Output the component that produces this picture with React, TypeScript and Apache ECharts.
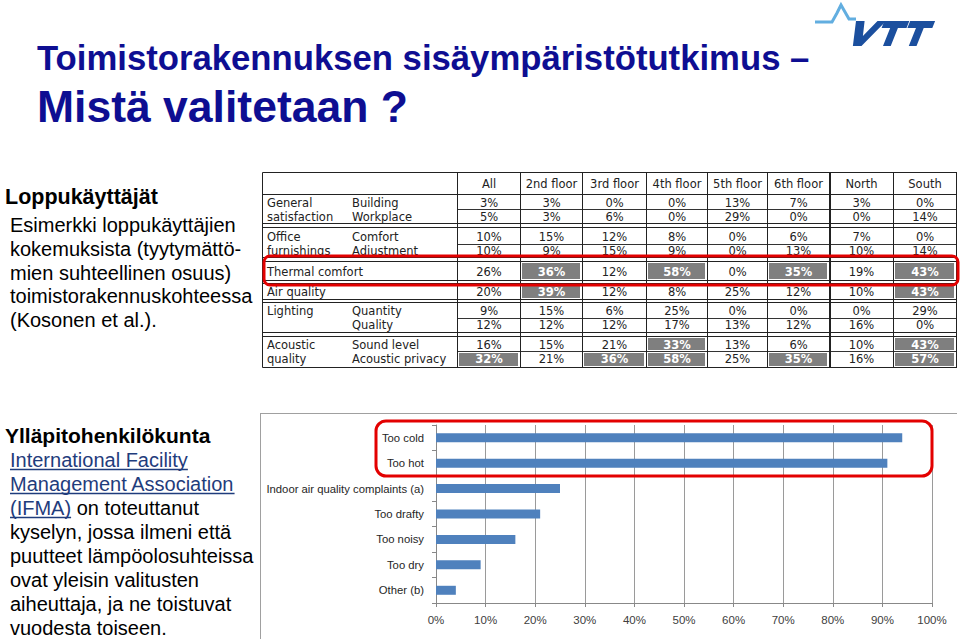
import React, { useEffect, useRef } from 'react';
import * as echarts from 'echarts';

// ---------- data ----------
const barCategories = ['Too cold', 'Too hot', 'Indoor air quality complaints (a)', 'Too drafty', 'Too noisy', 'Too dry', 'Other (b)'];
const barValues = [94, 91, 25, 21, 16, 9, 4];

const tableColumns = ['All', '2nd floor', '3rd floor', '4th floor', '5th floor', '6th floor', 'North', 'South'];
const groupLabels = ['General', 'satisfaction', 'Office', 'furnishings', 'Thermal comfort', 'Air quality', 'Lighting', '', 'Acoustic', 'quality'];
const subLabels = ['Building', 'Workplace', 'Comfort', 'Adjustment', '', '', 'Quantity', 'Quality', 'Sound level', 'Acoustic privacy'];
const tableValues = [
  [3, 3, 0, 0, 13, 7, 3, 0],
  [5, 3, 6, 0, 29, 0, 0, 14],
  [10, 15, 12, 8, 0, 6, 7, 0],
  [10, 9, 15, 9, 0, 13, 10, 14],
  [26, 36, 12, 58, 0, 35, 19, 43],
  [20, 39, 12, 8, 25, 12, 10, 43],
  [9, 15, 6, 25, 0, 0, 0, 29],
  [12, 12, 12, 17, 13, 12, 16, 0],
  [16, 15, 21, 33, 13, 6, 10, 43],
  [32, 21, 36, 58, 25, 35, 16, 57],
];
const highlightThreshold = 30;

const titleLine1 = 'Toimistorakennuksen sisäympäristötutkimus –';
const titleLine2 = 'Mistä valitetaan ?';
const topHeading = 'Loppukäyttäjät';
const topLines = ['Esimerkki loppukäyttäjien', 'kokemuksista (tyytymättö-', 'mien suhteellinen osuus)', 'toimistorakennuskohteessa', '(Kosonen et al.).'];
const bottomHeading = 'Ylläpitohenkilökunta';
const bottomLines: { t: string; link?: boolean }[][] = [
  [{ t: 'International Facility', link: true }],
  [{ t: 'Management Association', link: true }],
  [{ t: '(IFMA)', link: true }, { t: ' on toteuttanut' }],
  [{ t: 'kyselyn, jossa ilmeni että' }],
  [{ t: 'puutteet lämpöolosuhteissa' }],
  [{ t: 'ovat yleisin valitusten' }],
  [{ t: 'aiheuttaja, ja ne toistuvat' }],
  [{ t: 'vuodesta toiseen.' }],
];

// ---------- helpers ----------
const SANS = '"Liberation Sans", Arial, sans-serif';
const VERD = '"DejaVu Sans", Verdana, sans-serif';

function txt(x: number, y: number, text: string, o: any = {}) {
  const align = o.align || 'left';
  const va = o.va || 'middle';
  return {
    type: 'text',
    x,
    y,
    silent: true,
    z: o.z || 10,
    style: {
      text,
      fill: o.fill || '#000',
      fontSize: o.size || 12,
      fontFamily: o.family || SANS,
      fontWeight: o.weight || 'normal',
      align,
      verticalAlign: va,
      textAlign: align,
      textVerticalAlign: va,
    },
  };
}
function ln(x1: number, y1: number, x2: number, y2: number, color = '#222', w = 1, z = 5) {
  return { type: 'line', silent: true, z, shape: { x1, y1, x2, y2 }, style: { stroke: color, lineWidth: w } };
}

let measureCtx: CanvasRenderingContext2D | null = null;
function measure(text: string, font: string) {
  if (!measureCtx) measureCtx = document.createElement('canvas').getContext('2d');
  if (!measureCtx) return text.length * 10;
  measureCtx.font = font;
  return measureCtx.measureText(text).width;
}

export default function App() {
  const ref = useRef<HTMLDivElement>(null);

  useEffect(() => {
    if (!ref.current) return;
    const chart = echarts.init(ref.current, undefined, { renderer: 'svg' });
    const g: any[] = [];

    // title
    const titleColor = '#0e0e92';
    g.push(txt(37, 58, titleLine1, { size: 34.7, weight: 'bold', fill: titleColor }));
    g.push(txt(37, 106, titleLine2, { size: 44.5, weight: 'bold', fill: titleColor }));

    // VTT logo
    const yt = 21, yb = 46, sl = 0.4, x0 = 846, kx = 0.86;
    const P = (pts: number[][]) => pts.map(([x, y]) => [x0 + x * kx + (yb - y) * sl, y]);
    const dark = '#1b4f9e';
    g.push({ type: 'polygon', silent: true, shape: { points: P([[0, yt], [10, yt], [15, yb - 10], [25, yt], [35, yt], [18, yb], [8, yb]]) }, style: { fill: dark } });
    g.push({ type: 'polygon', silent: true, shape: { points: P([[33, yt], [62, yt], [62, yt + 7], [52, yt + 7], [52, yb], [43, yb], [43, yt + 7], [33, yt + 7]]) }, style: { fill: dark } });
    g.push({ type: 'polygon', silent: true, shape: { points: P([[63, yt], [92, yt], [92, yt + 7], [82, yt + 7], [82, yb], [73, yb], [73, yt + 7], [63, yt + 7]]) }, style: { fill: dark } });
    g.push({ type: 'polyline', silent: true, shape: { points: [[815, 22], [832, 22], [837, 13], [841, 5], [845, 12], [849, 19], [856, 19]] }, style: { stroke: '#62aee0', lineWidth: 3, fill: 'none' } });

    // top-left text
    g.push(txt(5, 197, topHeading, { size: 21.5, weight: 'bold' }));
    topLines.forEach((t, i) => g.push(txt(10, 225 + i * 23.75, t, { size: 20 })));

    // bottom-left text
    g.push(txt(5, 435, bottomHeading, { size: 21, weight: 'bold' }));
    const linkColor = '#1f3c7c';
    bottomLines.forEach((segs, i) => {
      const y = 460 + i * 24;
      let x = 10;
      segs.forEach((s) => {
        const w = measure(s.t, `20px ${SANS}`);
        g.push(txt(x, y, s.t, { size: 20, fill: s.link ? linkColor : '#000' }));
        if (s.link) g.push(ln(x, y + 9.5, x + w, y + 9.5, linkColor, 1.3, 11));
        x += w;
      });
    });

    // ---------- table ----------
    const colEdges = [457, 520, 582, 646, 707, 767, 829, 893, 956];
    const rowCenters = [203, 216.5, 237, 251, 271.5, 291.5, 311, 325, 344.5, 359];
    const rowBounds = [[195.5, 209.5], [209.5, 223.5], [227.5, 244.5], [244.5, 257.5], [261.5, 280.5], [283.5, 299.5], [302.5, 318.5], [318.5, 332.5], [336.5, 351.5], [351.5, 367.5]];
    g.push({ type: 'rect', silent: true, z: 1, shape: { x: 262.5, y: 172.5, width: 694, height: 195 }, style: { fill: '#fff', stroke: '#222', lineWidth: 1 } });
    // gray cells
    tableValues.forEach((row, r) => {
      row.forEach((v, c) => {
        if (v >= highlightThreshold) {
          const [t, b] = rowBounds[r];
          g.push({ type: 'rect', silent: true, z: 3, shape: { x: colEdges[c] + 2, y: t + 1.5, width: colEdges[c + 1] - colEdges[c] - 4, height: b - t - 3 }, style: { fill: '#7f7f7f' } });
        }
      });
    });
    // lines
    g.push(ln(262, 194.5, 956, 194.5));
    [[223.5, 227.5], [257.5, 261.5], [280.5, 283.5], [299.5, 302.5], [332.5, 336.5]].forEach(([a, b]) => {
      g.push(ln(262, a, 956, a, '#222', 1.2));
      g.push(ln(262, b, 956, b, '#222', 1.2));
    });
    [209.5, 244.5, 318.5, 351.5].forEach((y) => g.push(ln(457, y, 956, y, '#333', 1)));
    colEdges.forEach((x) => g.push(ln(x + 0.5, 172, x + 0.5, 368, '#222', 1)));
    g.push(ln(830.5, 172, 830.5, 368, '#222', 1));
    // header texts
    tableColumns.forEach((c, i) => g.push(txt((colEdges[i] + colEdges[i + 1]) / 2 + 0.5, 184, c, { size: 11.5, family: VERD, fill: '#222', align: 'center' })));
    // row labels and values
    tableValues.forEach((row, r) => {
      const y = rowCenters[r];
      if (groupLabels[r]) g.push(txt(267, y, groupLabels[r], { size: 11.5, family: VERD, fill: '#222' }));
      if (subLabels[r]) g.push(txt(352, y, subLabels[r], { size: 11.5, family: VERD, fill: '#222' }));
      row.forEach((v, c) => {
        const hl = v >= highlightThreshold;
        g.push(txt((colEdges[c] + colEdges[c + 1]) / 2 + 0.5, y, v + '%', { size: 11.5, family: VERD, fill: hl ? '#fff' : '#222', weight: hl ? 'bold' : 'normal', align: 'center' }));
      });
    });
    // red highlight around Thermal comfort row
    g.push({ type: 'rect', silent: true, z: 20, shape: { x: 264, y: 256, width: 694, height: 29, r: 6 }, style: { fill: 'none', stroke: '#e30000', lineWidth: 3 } });

    // bar chart frame
    g.push(ln(261, 413.5, 957, 413.5, '#a0a0a0', 1));
    g.push(ln(260.5, 413, 260.5, 639, '#a0a0a0', 1));
    // red highlight around bars
    g.push({ type: 'rect', silent: true, z: 20, shape: { x: 376, y: 421, width: 556, height: 55, r: 10 }, style: { fill: 'none', stroke: '#e30000', lineWidth: 3 } });

    chart.setOption({
      animation: false,
      backgroundColor: '#ffffff',
      grid: { left: 436, top: 425, width: 496, height: 178, containLabel: false },
      xAxis: {
        type: 'value',
        min: 0,
        max: 100,
        interval: 10,
        axisLabel: { formatter: '{value}%', fontSize: 11.5, color: '#404040', fontFamily: SANS, margin: 11 },
        splitLine: { show: true, lineStyle: { color: '#9a9a9a', width: 1 } },
        axisLine: { show: true, lineStyle: { color: '#888' } },
        axisTick: { show: true, length: 4, lineStyle: { color: '#888' } },
      },
      yAxis: {
        type: 'category',
        data: barCategories,
        inverse: true,
        axisLine: { show: true, lineStyle: { color: '#888' } },
        axisTick: { show: true, length: 4, lineStyle: { color: '#888' } },
        axisLabel: { fontSize: 11.3, color: '#262626', fontFamily: SANS, margin: 12 },
      },
      series: [
        {
          type: 'bar',
          data: barValues,
          barWidth: 9,
          itemStyle: { color: '#4f81bd' },
        },
      ],
      graphic: { elements: g },
    });
    return () => chart.dispose();
  }, []);

  return <div ref={ref} style={{ position: 'absolute', left: 0, top: 0, width: 960, height: 639, background: '#fff' }} />;
}
